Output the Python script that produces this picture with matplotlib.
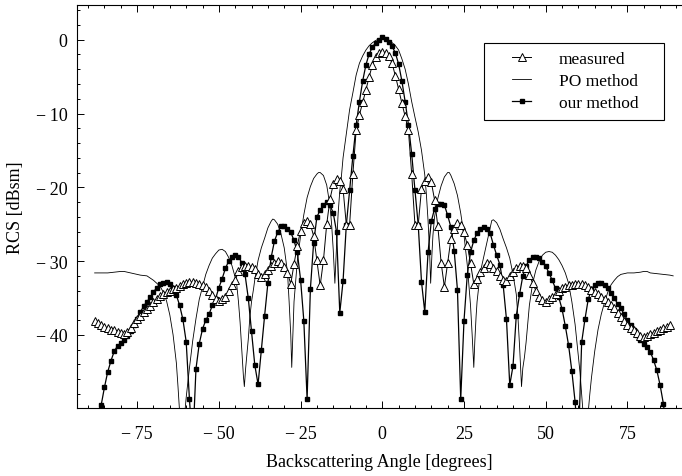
import numpy as np
import matplotlib
matplotlib.use('Agg')
import matplotlib.pyplot as plt
from matplotlib.patches import Rectangle
from matplotlib.ticker import MultipleLocator

plt.rcParams['font.family'] = ['Liberation Serif', 'DejaVu Serif']

# measured RCS, 1 degree steps
meas_deg = np.arange(-88, 89)
meas_db = [
    -38.1, -38.4, -38.7, -38.9, -39.1, -39.3, -39.4, -39.6, -39.8, -39.9,   # -88..-79
    -39.6, -39.0, -38.4, -37.9, -37.4, -36.9, -36.5, -36.1, -35.6, -35.1,   # -78..-69
    -34.7, -34.4, -34.2, -34.0, -33.8, -33.6, -33.4, -33.1, -33.0, -32.8,   # -68..-59
    -32.8, -32.9, -33.1, -33.3, -33.5, -34.0, -34.6, -35.1, -35.4, -35.2,   # -58..-49
    -34.9, -34.0, -33.3, -32.6, -31.4, -30.8, -30.6, -30.6, -30.8, -31.1,   # -48..-39
    -31.8, -32.1, -31.8, -31.2, -30.7, -30.3, -30.0, -30.2, -30.8, -31.6,   # -38..-29
    -33.1, -30.4, -27.9, -25.9, -24.8, -24.5, -25.0, -26.6, -29.9, -33.3,   # -28..-19
    -29.9, -25.0, -21.6, -19.6, -18.9, -19.1, -20.2, -25.1, -25.1, -18.2,   # -18..-9
    -12.3, -10.2, -8.5, -6.8, -5.0, -3.4, -2.3, -1.8, -1.6,                 # -8..0
    -1.8, -2.2, -3.2, -4.9, -6.7, -8.6, -10.4, -12.3, -18.2, -25.1,         # 1..10
    -25.1, -20.2, -19.1, -18.6, -19.3, -21.7, -25.3, -30.2, -33.5, -30.2,   # 11..20
    -27.0, -25.6, -24.8, -25.1, -26.1, -27.8, -30.3, -33.1, -32.4, -31.5,   # 21..30
    -30.9, -30.3, -30.4, -30.9, -31.4, -32.0, -32.5, -32.7, -32.0, -31.5,   # 31..40
    -31.0, -30.7, -30.6, -31.0, -31.9, -33.0, -34.0, -34.8, -35.3, -35.6,   # 41..50
    -35.2, -34.8, -34.5, -34.0, -33.7, -33.5, -33.3, -33.2, -33.1, -33.1,   # 51..60
    -33.1, -33.2, -33.5, -33.9, -34.2, -34.5, -34.8, -35.1, -35.5, -36.0,   # 61..70
    -36.4, -37.0, -37.6, -38.1, -38.6, -39.0, -39.4, -39.8, -40.1, -40.3,   # 71..80
    -40.1, -39.9, -39.7, -39.5, -39.3, -39.1, -38.9, -38.6,                 # 81..88
]

# our method, 1 degree steps
ours_deg = np.arange(-87, 88)
ours_db = [
    -53.0, -49.5, -47.1, -45.0, -43.5, -42.2, -41.5, -41.1, -40.7, -40.2,   # -87..-78
    -39.5, -38.7, -37.8, -36.9, -36.1, -35.5, -34.9, -34.2, -33.6, -33.1,   # -77..-68
    -32.9, -32.8, -33.1, -33.6, -34.6, -36.0, -37.9, -40.9, -48.7, -55.0,   # -67..-58
    -44.6, -41.2, -39.2, -38.0, -37.2, -36.0, -35.1, -33.6, -32.4, -31.0,   # -57..-48
    -30.0, -29.5, -29.2, -29.4, -30.2, -31.8, -35.0, -39.5, -44.1, -46.7,   # -47..-38
    -42.0, -37.4, -33.0, -29.5, -27.3, -26.1, -25.3, -25.2, -25.6, -26.1,   # -37..-28
    -27.2, -28.8, -32.5, -38.1, -48.7, -33.8, -27.5, -24.0, -23.1, -22.4,   # -27..-18
    -22.0, -22.4, -23.5, -26.0, -37.0, -32.7, -25.1, -20.4, -15.8, -11.6,   # -17..-8
    -8.4, -5.6, -3.4, -1.9, -1.0, -0.4, 0.0, 0.3,                           # -7..0
    0.1, -0.3, -0.9, -1.8, -3.3, -5.6, -8.4, -11.5, -15.5, -20.4,           # 1..10
    -25.1, -32.8, -36.9, -28.8, -24.6, -22.9, -22.3, -22.2, -22.4, -23.8,   # 11..20
    -25.4, -28.6, -33.9, -48.7, -38.1, -31.9, -28.8, -27.2, -26.2, -25.6,   # 21..30
    -25.4, -25.6, -26.2, -27.8, -29.2, -30.5, -33.3, -37.9, -46.8, -44.2,   # 31..40
    -37.4, -34.5, -32.0, -30.6, -29.9, -29.5, -29.4, -29.6, -30.1, -30.7,   # 41..50
    -31.6, -32.6, -33.7, -34.9, -36.5, -38.8, -41.4, -44.9, -49.1, -55.0,   # 51..60
    -41.0, -37.9, -35.2, -33.8, -33.2, -33.0, -33.0, -33.3, -33.7, -34.3,   # 61..70
    -35.0, -35.8, -36.4, -37.2, -38.0, -38.6, -39.3, -40.0, -40.7, -41.2,   # 71..80
    -41.6, -42.3, -43.4, -44.8, -46.8, -49.3, -53.0,                        # 81..87
]

# PO method (smooth curve, read at uneven steps)
po_deg = [-88, -86, -84, -82, -80, -79, -78, -76, -74, -72, -71, -70, -69, -68,
          -67, -66, -65, -64, -63, -62.5, -62, -61.5, -61, -60.5, -60, -59,
          -58, -57, -56, -55, -54, -53, -52, -51, -50, -49, -48, -47, -46, -45,
          -44.5, -44, -43.5, -43, -42.5, -42.2, -41.8, -41.5, -41, -40.5, -40,
          -39.4, -39, -38, -37, -36, -35, -34, -33.5, -33, -32, -31, -30, -29,
          -28.5, -28, -27.7, -27.4, -27, -26, -25, -24, -23, -22, -21, -20,
          -19.5, -19, -18, -17, -16, -15.5, -15, -14.5, -14, -13.5, -13, -12.5,
          -12, -11, -10, -9, -8, -7, -6, -5, -4, -3, -2, -1, 0,
          1, 2, 3, 4, 5, 6, 7, 8, 9, 10, 11, 12, 13, 13.5, 14, 14.5, 14.8,
          15.2, 15.5, 16, 17, 18, 19, 20, 20.5, 21, 22, 23, 24, 25, 26, 27,
          27.5, 28, 28.3, 28.7, 29, 30, 31, 32, 33, 33.5, 34, 35, 36, 37, 38,
          39, 40, 41, 41.5, 42, 42.6, 43, 43.5, 44, 45, 46, 47, 48, 49, 50,
          51, 52, 53, 54, 55, 56, 57, 58, 59, 60, 60.5, 61, 61.5, 62, 62.5,
          63, 63.5, 64, 65, 66, 67, 68, 69, 70, 71, 72, 73, 75, 77, 79, 80,
          81, 82, 84, 86, 88, 89]
po_db = [-31.6, -31.6, -31.6, -31.5, -31.4, -31.4, -31.5, -31.7, -31.9, -32.0,
         -32.3, -32.6, -33.0, -33.4, -34.2, -35.4, -37.3, -40.0, -43.8, -47.0,
         -50.5, -55.0, -55.0, -51.0, -48.5, -44.5, -40.8, -37.8, -35.2, -33.5,
         -31.8, -30.6, -29.6, -29.0, -28.5, -28.4, -28.7, -29.5, -30.6, -32.2,
         -33.3, -35.5, -38.3, -42.0, -45.5, -47.0, -44.5, -43.0, -40.6, -37.5,
         -35.5, -33.8, -32.5, -29.9, -28.2, -26.9, -25.5, -24.6, -24.3, -24.4,
         -25.0, -26.3, -28.2, -31.5, -35.5, -40.0, -44.4, -40.5, -35.5, -30.0,
         -26.6, -23.7, -21.4, -19.9, -18.8, -18.2, -18.0, -18.0, -18.4, -19.7,
         -22.5, -25.0, -28.5, -33.0, -28.0, -23.5, -20.5, -18.5, -16.0, -12.8,
         -9.5, -7.2, -4.8, -3.2, -2.2, -1.4, -0.8, -0.4, -0.1, 0.1, 0.2,
         0.1, -0.1, -0.4, -0.8, -1.4, -2.6, -4.0, -6.0, -8.4, -10.5, -12.5,
         -15.0, -18.3, -21.0, -24.5, -29.0, -33.0,
         -29.0, -26.5, -24.0, -21.5, -19.8, -18.6, -18.0, -18.0, -18.4, -19.5,
         -21.1, -23.5, -26.5, -30.5, -36.0, -40.0, -44.4, -41.0, -37.5, -35.5,
         -31.5, -29.5, -27.5, -25.5, -24.5, -24.4, -24.8, -25.7, -27.0, -28.2,
         -29.6, -31.8, -34.5, -37.5, -41.5, -47.0, -44.5, -43.0, -41.0, -36.0,
         -33.0, -31.2, -30.0, -29.2, -28.8, -28.7, -28.8, -29.2, -29.8, -30.6,
         -31.6, -33.0, -35.5, -38.6, -43.0, -45.1, -48.0, -51.0, -55.0, -53.0,
         -50.5, -48.0, -45.8, -42.2, -39.3, -37.2, -35.6, -34.2, -33.2, -32.6,
         -32.1, -31.8, -31.6, -31.6, -31.5, -31.4, -31.4, -31.6, -31.7, -31.8,
         -31.9, -32.0]

xticks = [-75, -50, -25, 0, 25, 50, 75]
yticks = [0, -10, -20, -30, -40]


def lab(v):
    return ('\u2212\u2009%d' % -v) if v < 0 else '%d' % v


fig = plt.figure(figsize=(6.82, 4.77), dpi=100)
ax = fig.add_axes([0.1129, 0.1426, 0.8871, 0.8448])

ax.plot(po_deg, po_db, color='k', lw=0.6, label='PO method')
ax.plot(ours_deg, ours_db, color='k', lw=0.9, marker='s', ms=3.2,
        label='our method')
ax.plot(meas_deg, meas_db, color='k', lw=0.7, marker='^', ms=6,
        mfc='white', mec='k', mew=0.7, label='measured')

ax.set_xlim(-93.4, 91.7)
ax.set_ylim(-49.9, 4.7)
ax.set_xticks(xticks)
ax.set_xticklabels([lab(v) for v in xticks])
ax.set_yticks(yticks)
ax.set_yticklabels([lab(v) for v in yticks])
ax.xaxis.set_minor_locator(MultipleLocator(5))
ax.yaxis.set_minor_locator(MultipleLocator(2))
ax.tick_params(which='both', direction='in', top=True, right=False,
               labelsize=13, width=0.7)
ax.tick_params(axis='x', which='major', length=5, pad=12)
ax.tick_params(axis='y', which='major', length=5, pad=7)
ax.tick_params(which='minor', length=2.5)
ax.spines['right'].set_visible(False)
for s in ['left', 'bottom', 'top']:
    ax.spines[s].set_linewidth(0.8)

ax.set_xlabel('Backscattering Angle [degrees]', fontsize=13)
ax.set_ylabel('RCS [dBsm]', fontsize=13)
ax.xaxis.set_label_coords(0.5, -0.112)
ax.yaxis.set_label_coords(-0.088, 0.5)

# legend box drawn by hand, entries without frame
ax.add_patch(Rectangle((0.6727, 0.7146), 0.2975, 0.1911, transform=ax.transAxes,
                       fill=False, ec='k', lw=0.8, zorder=5))
h, l = ax.get_legend_handles_labels()
order = [2, 0, 1]
ax.legend([h[i] for i in order], [l[i] for i in order], loc='upper left',
          bbox_to_anchor=(0.719, 0.886), frameon=False, fontsize=12.5,
          borderpad=0, borderaxespad=0, handlelength=1.1, handletextpad=1.6,
          labelspacing=0.33, numpoints=1)

fig.savefig('out.png', dpi=100)
